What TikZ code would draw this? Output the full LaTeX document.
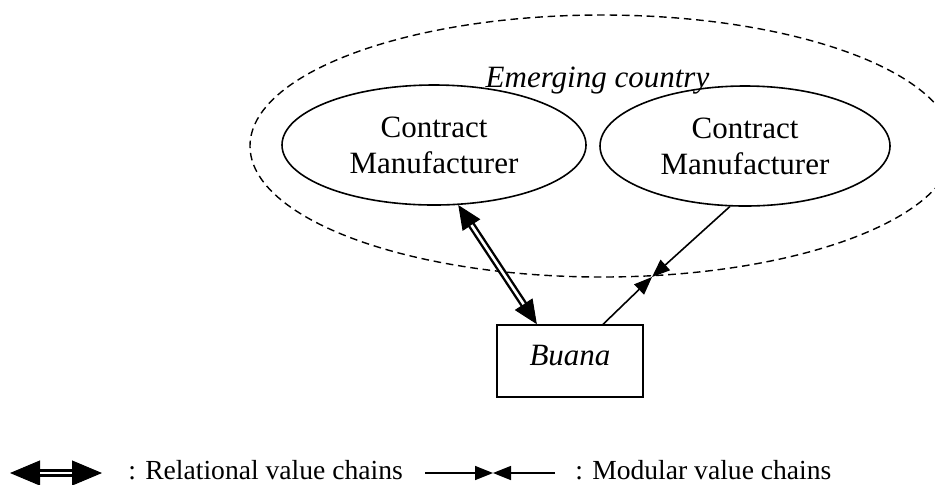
\documentclass[tikz,border=0pt]{standalone}
\usepackage{fontspec}
\setmainfont{Liberation Serif}
\usetikzlibrary{arrows.meta,shapes.geometric}

\begin{document}
\begin{tikzpicture}[x=0.5pt, y=-0.5pt,
  firm/.style={draw, ellipse, line width=0.8pt, inner sep=0pt,
    minimum height=60pt, align=center,
    font=\fontsize{15.5}{18}\selectfont},
  region/.style={draw, ellipse, line width=0.7pt, inner sep=0pt,
    dash pattern=on 3.8pt off 2.4pt,
    minimum width=352pt, minimum height=131pt},
  brand/.style={draw, rectangle, line width=0.8pt, inner sep=0pt,
    minimum width=73pt, minimum height=36pt,
    text height=10.2pt, text depth=6pt,
    font=\fontsize{15.5}{18}\selectfont\itshape},
  label/.style={inner sep=0pt, font=\fontsize{15.5}{18}\selectfont\itshape},
  legendtext/.style={inner sep=0pt, anchor=base west,
    font=\fontsize{13.8}{16}\selectfont},
  % relational link: thin line carrying the two heads, a thick shaft and a white core
  relheads/.style={line width=0.5pt,
    {Triangle[length=12pt,width=10.5pt]}-{Triangle[length=12pt,width=10.5pt]}},
  relshaft/.style={line width=3.7pt, shorten <=11.5pt, shorten >=11.5pt},
  relgap/.style={white, line width=1.3pt, shorten <=12pt, shorten >=12pt},
  keyheads/.style={line width=0.5pt,
    {Triangle[length=15pt,width=12.5pt]}-{Triangle[length=15pt,width=12.5pt]}},
  keyshaft/.style={line width=4pt, shorten <=14.5pt, shorten >=14.5pt},
  keygap/.style={white, line width=1.4pt, shorten <=15pt, shorten >=15pt},
  % modular link: plain line ending in a filled head
  modarrow/.style={line width=0.8pt, -{Triangle[length=9pt,width=7pt]}}
]
\useasboundingbox (0,0) rectangle (935,484);

% emerging-country region
\node[region] (country) at (602,146) {};
\node[label, anchor=base] (countrylabel) at (597.5,87.5) {Emerging country};

% contract manufacturers and the brand owner
\node[firm, minimum width=152pt] (cm1) at (434,145) {Contract\\Manufacturer};
\node[firm, minimum width=145pt] (cm2) at (745,146) {Contract\\Manufacturer};
\node[brand] (buana) at (570,361) {Buana};

% relational value chain
\draw[relheads] (buana.132.5) -- (cm1.-68);
\draw[relshaft] (buana.132.5) -- (cm1.-68);
\draw[relgap]   (buana.132.5) -- (cm1.-68);

% modular value chain
\coordinate (meet) at (652,277);
\draw[modarrow] (cm2.-104) -- (meet);
\draw[modarrow] (buana.48) -- (meet);

% key
\coordinate (rl) at (10,473);
\coordinate (rr) at (102,473);
\draw[keyheads] (rl) -- (rr);
\draw[keyshaft] (rl) -- (rr);
\draw[keygap]   (rl) -- (rr);
\node[legendtext] (relkey) at (128,479) {: Relational value chains};

\coordinate (ml) at (425,473);
\coordinate (mr) at (555,473);
\coordinate (mm) at (493,473);
\draw[modarrow] (ml) -- (mm);
\draw[modarrow] (mr) -- (mm);
\node[legendtext] (modkey) at (575,479) {: Modular value chains};
\end{tikzpicture}
\end{document}
